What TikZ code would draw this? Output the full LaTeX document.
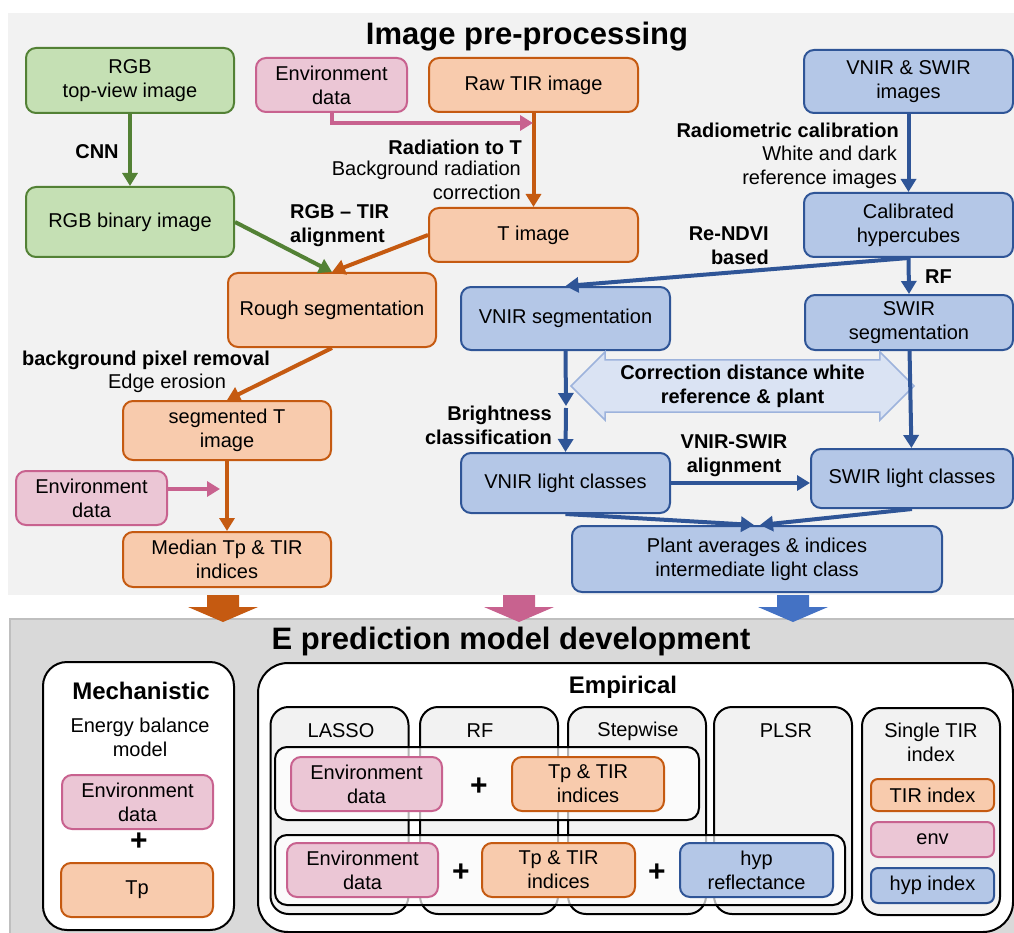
\documentclass[tikz,border=0pt]{standalone}
\usepackage{fontspec}
\setmainfont{Liberation Sans}
\usetikzlibrary{arrows.meta,shapes.arrows}
\definecolor{grnfill}{HTML}{C5E0B4}
\definecolor{grnline}{HTML}{538135}
\definecolor{orgfill}{HTML}{F8CBAD}
\definecolor{orgline}{HTML}{C55A11}
\definecolor{pnkfill}{HTML}{EBC6D5}
\definecolor{pnkline}{HTML}{C8628F}
\definecolor{blufill}{HTML}{B4C7E7}
\definecolor{bluline}{HTML}{2F5597}
\definecolor{bluarr}{HTML}{4472C4}
\definecolor{corrfill}{HTML}{DAE3F3}
\definecolor{corrline}{HTML}{9DB3DC}
\definecolor{toppanel}{HTML}{F2F2F2}
\definecolor{botpanel}{HTML}{D9D9D9}
\definecolor{botline}{HTML}{BFBFBF}
\tikzset{
	box/.style={rounded corners=10pt,line width=2pt,align=center,inner sep=0pt,font=\fontsize{20}{24}\selectfont},
	grn/.style={box,fill=grnfill,draw=grnline},
	org/.style={box,fill=orgfill,draw=orgline},
	pnk/.style={box,fill=pnkfill,draw=pnkline},
	blu/.style={box,fill=blufill,draw=bluline},
	flow/.style={line width=4pt,-{Triangle[width=15pt,length=13pt]}},
	grnflow/.style={flow,grnline},
	orgflow/.style={flow,orgline},
	pnkflow/.style={flow,pnkline},
	bluflow/.style={flow,bluline},
	lbl/.style={font=\bfseries\fontsize{20}{24}\selectfont,inner sep=0pt},
	txt/.style={font=\fontsize{20}{24}\selectfont,inner sep=0pt},
	paneltitle/.style={font=\bfseries\fontsize{31}{34}\selectfont,inner sep=0pt},
	grouptitle/.style={font=\bfseries\fontsize{24}{28}\selectfont,inner sep=0pt},
	panelbox/.style={draw=black,fill=white,line width=2pt,inner sep=0pt},
	subbox/.style={draw=black,fill=toppanel,line width=2pt,inner sep=0pt,rounded corners=18pt},
	rowbox/.style={draw=black,fill=white,fill opacity=0.7,line width=2pt,inner sep=0pt,rounded corners=12pt},
	plus/.style={font=\bfseries\fontsize{30}{30}\selectfont,inner sep=0pt}
}
\begin{document}
\begin{tikzpicture}[x=1pt,y=-1pt]
	\useasboundingbox (0,0) rectangle (1014,933);
	\fill[white] (0,0) rectangle (1014,933);
	\fill[toppanel] (8,13) rectangle (1014,595);
	\draw[botline,fill=botpanel,line width=2pt] (10,619) rectangle (1024,943);
	\node[paneltitle] (pretitle) at (527,37) {Image pre-processing};

	\node[grn,minimum width=208pt,minimum height=65pt] (rgb) at (130,80.5) {RGB\\top-view image};
	\node[grn,minimum width=208pt,minimum height=70pt] (rgbbin) at (130,222) {RGB binary image};
	\node[pnk,minimum width=151pt,minimum height=54pt] (envtop) at (331.5,85) {Environment\\data};
	\node[org,minimum width=209pt,minimum height=54pt] (rawtir) at (533.5,85) {Raw TIR image};
	\node[org,minimum width=209pt,minimum height=54pt] (timg) at (533.5,235) {T image};
	\node[org,minimum width=208pt,minimum height=74pt] (rough) at (332,310) {Rough segmentation};
	\node[org,minimum width=208pt,minimum height=59pt] (segt) at (227,430.5) {segmented T\\image};
	\node[pnk,minimum width=151pt,minimum height=54pt] (envlow) at (91.5,498) {Environment\\data};
	\node[org,minimum width=208pt,minimum height=55pt] (median) at (227,559.5) {Median Tp \& TIR\\indices};

	\node[blu,minimum width=209pt,minimum height=63pt] (vsimg) at (908.5,81.5) {VNIR \& SWIR\\images};
	\node[blu,minimum width=209pt,minimum height=64pt] (calib) at (908.5,225) {Calibrated\\hypercubes};
	\node[blu,minimum width=209pt,minimum height=63pt] (vnirseg) at (565.5,318.5) {VNIR segmentation};
	\node[blu,minimum width=208pt,minimum height=55pt] (swirseg) at (909,322.5) {SWIR\\segmentation};
	\node[blu,minimum width=209pt,minimum height=60pt] (vnirlc) at (565.5,483) {VNIR light classes};
	\node[blu,minimum width=202pt,minimum height=59pt] (swirlc) at (912,478.5) {SWIR light classes};
	\node[blu,minimum width=370pt,minimum height=66pt] (plant) at (757,559) {Plant averages \& indices\\intermediate light class};
	\node[double arrow,double arrow head extend=8pt,fill=corrfill,draw=corrline,line width=1.5pt,minimum height=343pt,inner xsep=0pt,inner ysep=4pt,align=center,font=\bfseries\fontsize{20}{24}\selectfont] (corr) at (742.5,386) {Correction distance white\\reference \& plant};

	\coordinate (radt) at (533,123);
	\coordinate (envin) at (220,489);
	\coordinate (bmid) at (566,406);
	\draw[grnflow] (rgb) -- (rgbbin);
	\draw[grnflow] (rgbbin.east) -- (rough.north);
	\draw[orgflow] (rawtir) -- (timg);
	\draw[pnkflow] (envtop.south) |- (radt);
	\draw[orgflow] (timg.west) -- (rough.north);
	\draw[orgflow] (rough.south) -- (segt.north);
	\draw[orgflow] (segt) -- (median);
	\draw[pnkflow] ([yshift=9pt]envlow.east) -- (envin);
	\draw[bluflow] (vsimg) -- (calib);
	\draw[bluflow] (calib.south) -- (vnirseg.north);
	\draw[bluflow] (calib.south) -- (swirseg.north);
	\draw[bluflow] (vnirseg.south) -- (bmid);
	\draw[bluflow] ([yshift=-2pt]bmid) -- (vnirlc.north);
	\draw[bluflow] (swirseg) -- (swirlc);
	\draw[bluflow] (vnirlc.east) -- (vnirlc.east -| swirlc.west);
	\draw[bluflow] (vnirlc.south) -- ([xshift=-3pt]plant.north);
	\draw[bluflow] (swirlc.south) -- ([xshift=3pt]plant.north);

	\node[lbl] (cnn) at (97,152) {CNN};
	\node[lbl,anchor=east] (radlbl) at (522,147) {Radiation to T};
	\node[txt,align=right,anchor=east] (bgcorr) at (521,180) {Background radiation\\correction};
	\node[lbl,align=left,anchor=west] (align1) at (290,226) {RGB \textendash{} TIR\\alignment};
	\node[lbl] (bgpix) at (146,360) {background pixel removal};
	\node[txt] (erosion) at (167,383) {Edge erosion};
	\node[lbl,anchor=east] (radio) at (899,130) {Radiometric calibration};
	\node[txt,align=right,anchor=east] (whiteref) at (897,167) {White and dark\\reference images};
	\node[lbl,align=right,anchor=east] (ndvi) at (769,246) {Re-NDVI\\based};
	\node[lbl,anchor=west] (rflbl) at (925,277) {RF};
	\node[lbl,align=right,anchor=east] (bright) at (552,425) {Brightness\\classification};
	\node[lbl,align=center] (align2) at (734,456) {VNIR-SWIR\\alignment};

	\foreach \cx/\col in {223/orgline,519/pnkline,793/bluarr}
		\fill[\col] (\cx-16,595) -- (\cx+16,595) -- (\cx+16,607) -- (\cx+35,607) -- (\cx,622) -- (\cx-35,607) -- (\cx-16,607) -- cycle;

	\node[paneltitle] (predtitle) at (511,641) {E prediction model development};
	\node[panelbox,minimum width=191pt,minimum height=268pt,rounded corners=24pt] (mech) at (138.5,796) {};
	\node[grouptitle] (mechlbl) at (141,691) {Mechanistic};
	\node[txt,align=center] (energy) at (140,737) {Energy balance\\model};
	\node[pnk,minimum width=151pt,minimum height=54pt] (menv) at (137.5,802) {Environment\\data};
	\node[plus] (mplus) at (139,842) {+};
	\node[org,minimum width=152pt,minimum height=54pt] (mtp) at (137,890) {Tp};

	\node[panelbox,minimum width=755pt,minimum height=269pt,rounded corners=30pt] (emp) at (635.5,797.5) {};
	\node[grouptitle] (emplbl) at (623,687) {Empirical};
	\foreach \nm/\cx/\lx/\txt in {lasso/339.5/341/LASSO,rf/489/480/RF,stepw/637/638/Stepwise,plsr/783/786/PLSR}{
		\node[subbox,minimum width=138pt,minimum height=207pt] (\nm) at (\cx,810.5) {};
		\node[txt] (\nm-lbl) at (\lx,731) {\txt};
	}
	\node[subbox,minimum width=138pt,minimum height=207pt] (single) at (931,811.5) {};
	\node[txt,align=center] (single-lbl) at (931,742) {Single TIR\\index};

	\node[rowbox,minimum width=424pt,minimum height=73pt] (row1) at (487,783.5) {};
	\node[pnk,minimum width=151pt,minimum height=54pt] (r1env) at (366.5,784) {Environment\\data};
	\node[plus] (r1plus) at (479,787) {+};
	\node[org,minimum width=152pt,minimum height=54pt] (r1tp) at (588,784) {Tp \& TIR\\indices};
	\node[rowbox,minimum width=570pt,minimum height=70pt] (row2) at (560,870) {};
	\node[pnk,minimum width=151pt,minimum height=54pt] (r2env) at (362.5,870) {Environment\\data};
	\node[plus] (r2plusa) at (461,873) {+};
	\node[org,minimum width=153pt,minimum height=54pt] (r2tp) at (558.5,870) {Tp \& TIR\\indices};
	\node[plus] (r2plusb) at (657,873) {+};
	\node[blu,minimum width=153pt,minimum height=54pt] (r2hyp) at (756.5,870) {hyp\\reflectance};

	\node[org,minimum width=123pt,minimum height=32pt,rounded corners=7pt] (stir) at (932.5,795) {TIR index};
	\node[pnk,minimum width=123pt,minimum height=35pt,rounded corners=7pt] (senv) at (932.5,839.5) {env};
	\node[blu,minimum width=123pt,minimum height=35pt,rounded corners=7pt] (shyp) at (932.5,885.5) {hyp index};
\end{tikzpicture}
\end{document}
